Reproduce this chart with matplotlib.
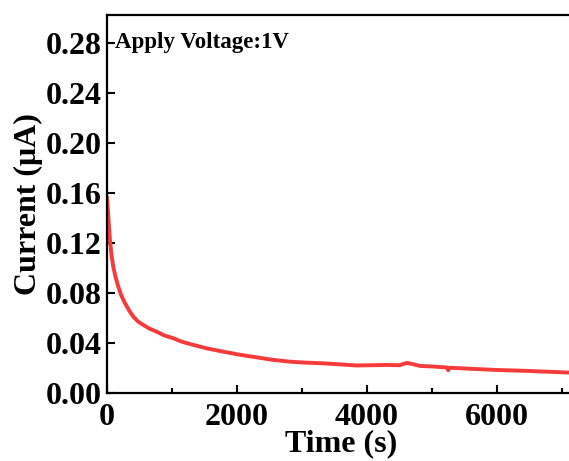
import matplotlib.pyplot as plt
from matplotlib.ticker import MultipleLocator

plt.rcParams["font.family"] = ["Liberation Serif", "DejaVu Serif"]
plt.rcParams["font.weight"] = "bold"

# i-t curve read at 1 V bias
time_s = [0, 5, 25, 46, 70, 97, 130, 174, 220, 277, 340, 405, 480, 559, 650,
          764, 880, 1020, 1150, 1330, 1550, 1790, 2050, 2300, 2550, 2815,
          3050, 3330, 3600, 3840, 4100, 4300, 4500, 4560, 4610, 4680, 4820,
          5000, 5230, 5250, 5270, 5500, 6000, 6500, 7070, 7200]
current_uA = [0.156, 0.153, 0.138, 0.122, 0.110, 0.101, 0.093, 0.085, 0.078,
              0.0718, 0.066, 0.061, 0.057, 0.0544, 0.0515, 0.049, 0.046,
              0.0438, 0.041, 0.0384, 0.0355, 0.033, 0.0305, 0.0285, 0.0265,
              0.025, 0.0243, 0.0237, 0.0228, 0.0220, 0.0222, 0.0224, 0.0222,
              0.0232, 0.0240, 0.0234, 0.0216, 0.0212, 0.0204, 0.0182, 0.0202,
              0.0196, 0.0184, 0.0176, 0.0164, 0.0162]

fig = plt.figure(figsize=(5.69, 4.61), dpi=100)
ax = fig.add_axes([0.188, 0.1475, 0.8225, 0.82])
ax.plot(time_s, current_uA, color="#f73b3b", lw=2.8)

ax.set_xlim(0, 7200)
ax.set_ylim(0, 0.302)
ax.xaxis.set_major_locator(MultipleLocator(2000))
ax.xaxis.set_minor_locator(MultipleLocator(1000))
ax.yaxis.set_major_locator(MultipleLocator(0.04))
ax.yaxis.set_major_formatter(lambda v, p: "%.2f" % v)
ax.tick_params(which="both", direction="in", width=1.5, labelsize=23,
               top=False, right=False)
ax.tick_params(which="major", length=6)
ax.tick_params(axis="x", pad=7)
ax.tick_params(which="minor", length=3.5)
for s in ax.spines.values():
    s.set_linewidth(1.6)

ax.set_xlabel("Time (s)", fontsize=23, fontweight="bold", labelpad=-2)
ax.set_ylabel("Current (μA)", fontsize=23, fontweight="bold", labelpad=2)
ax.text(0.017, 0.928, "Apply Voltage:1V", transform=ax.transAxes,
        fontsize=16.5, fontweight="bold", va="center", ha="left")

fig.savefig("out.png", dpi=100)
